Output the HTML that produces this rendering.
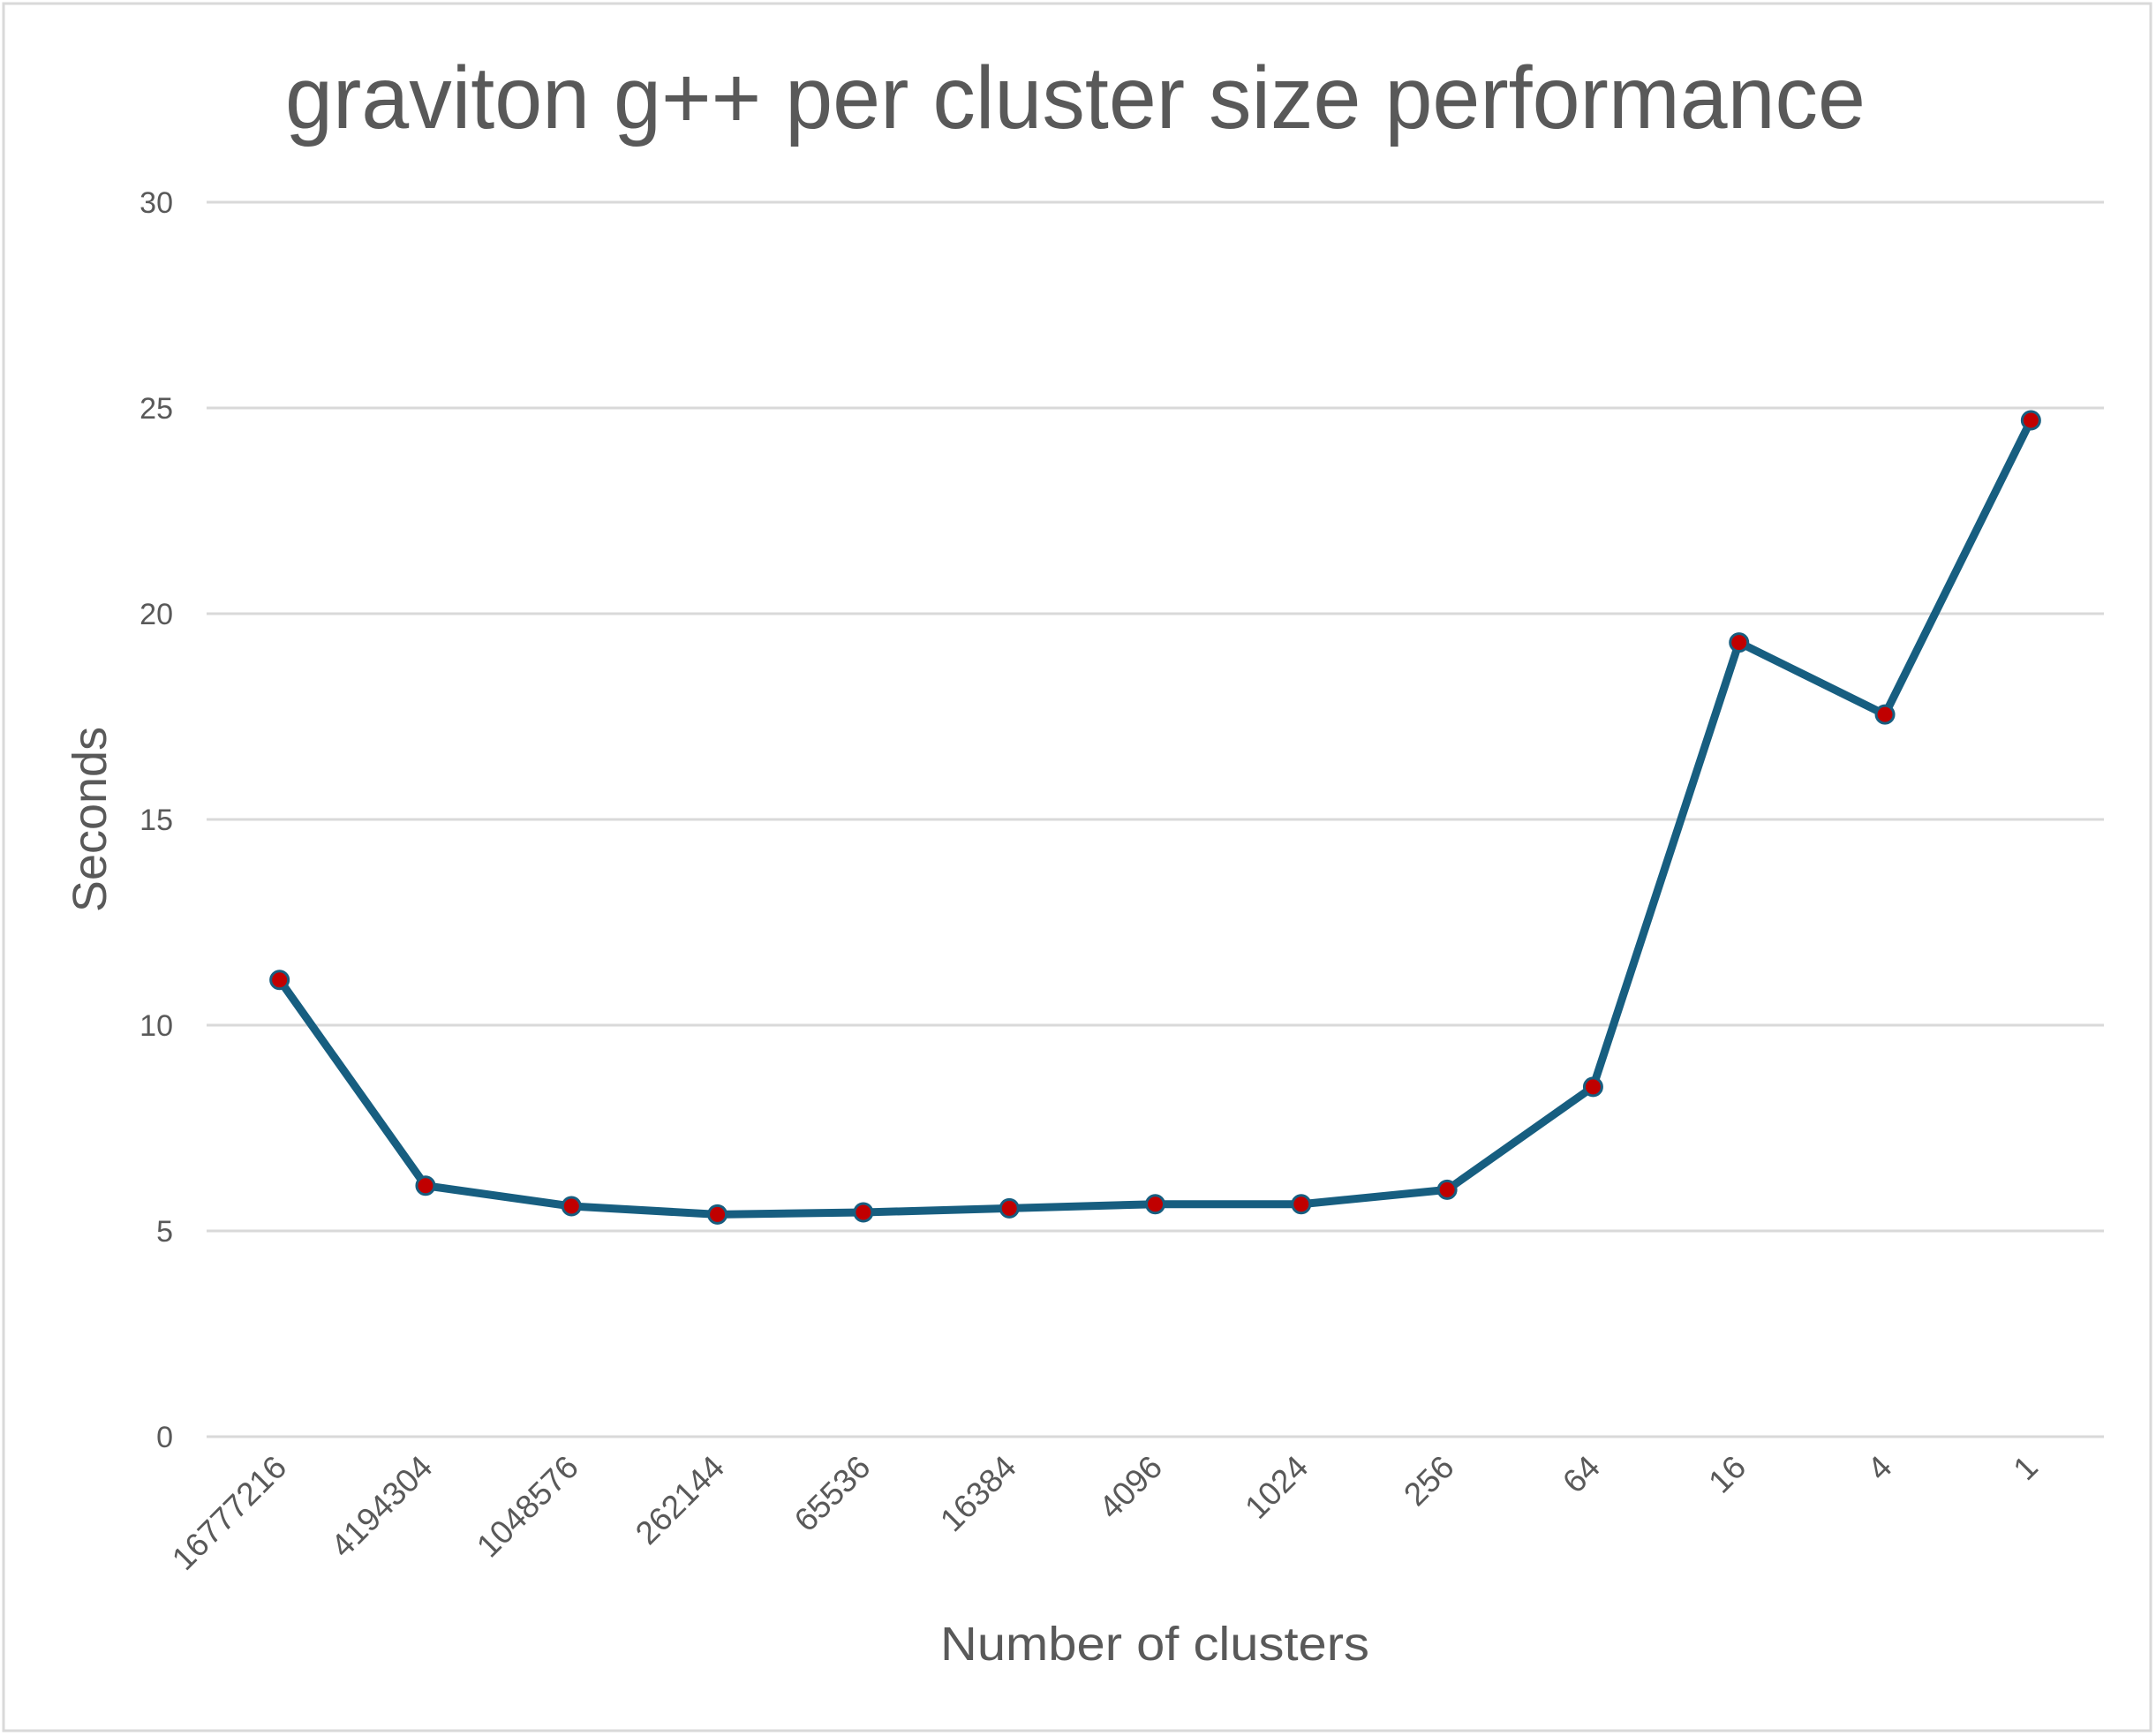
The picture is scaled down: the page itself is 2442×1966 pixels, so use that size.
<!DOCTYPE html>
<html><head><meta charset="utf-8"><style>
body{margin:0;background:#fff}
svg{display:block;font-family:"Liberation Sans",sans-serif}
</style></head><body>
<svg id="chart" width="2442" height="1966">
<rect x="4" y="4" width="2432" height="1956" fill="#fff" stroke="#d9d9d9" stroke-width="3"/>
<text x="1218" y="145" text-anchor="middle" font-size="100" fill="#595959" textLength="1790" lengthAdjust="spacingAndGlyphs">graviton g++ per cluster size performance</text>
<g id="grid"></g><g id="yt"></g><g id="xt"></g>
<path id="line" fill="none" stroke="#175e80" stroke-width="9" stroke-linejoin="round"/>
<g id="pts"></g>
<text x="1308" y="1880" text-anchor="middle" font-size="54" fill="#595959" textLength="486" lengthAdjust="spacingAndGlyphs">Number of clusters</text>
<text transform="translate(120,928) rotate(-90)" text-anchor="middle" font-size="54" fill="#595959">Seconds</text>
</svg>
<script>
const categories=["16777216","4194304","1048576","262144","65536","16384","4096","1024","256","64","16","4","1"];
const values=[11.1,6.1,5.6,5.4,5.45,5.55,5.65,5.65,6.0,8.5,19.3,17.55,24.7];
const yTicks=[0,5,10,15,20,25,30];
const L=234,R=2383,T=229,B=1627,ymax=30;
const ns="http://www.w3.org/2000/svg";
const bw=(R-L)/categories.length;
const X=i=>L+bw*(i+0.5);
const Y=v=>B-(v/ymax)*(B-T);
function mk(t,a,p){const e=document.createElementNS(ns,t);for(const k in a)e.setAttribute(k,a[k]);p.appendChild(e);return e;}
const g=document.getElementById('grid'),yt=document.getElementById('yt'),xt=document.getElementById('xt'),pts=document.getElementById('pts');
yTicks.forEach(v=>{
 const l=mk('line',{x1:L,x2:R,y1:Y(v),y2:Y(v),stroke:'#d9d9d9','stroke-width':3},g);
 
 
 const t=mk('text',{x:196,y:Y(v)+12,'text-anchor':'end','font-size':34,fill:'#595959'},yt);
 t.textContent=v;
 
 
});
categories.forEach((c,i)=>{
 const x=X(i)+10,y=1664;
 const t=mk('text',{x:x,y:y,'text-anchor':'end','font-size':37,fill:'#595959',transform:`rotate(-45 ${x} ${y})`},xt);
 t.textContent=c;
 
 
});
document.getElementById('line').setAttribute('d',values.map((v,i)=>(i?'L':'M')+X(i)+' '+Y(v)).join(' '));
values.forEach((v,i)=>{
 const c=mk('circle',{cx:X(i),cy:Y(v),r:10,fill:'#c00000',stroke:'#175e80','stroke-width':3},pts);
 
 
});
</script>
</body></html>
